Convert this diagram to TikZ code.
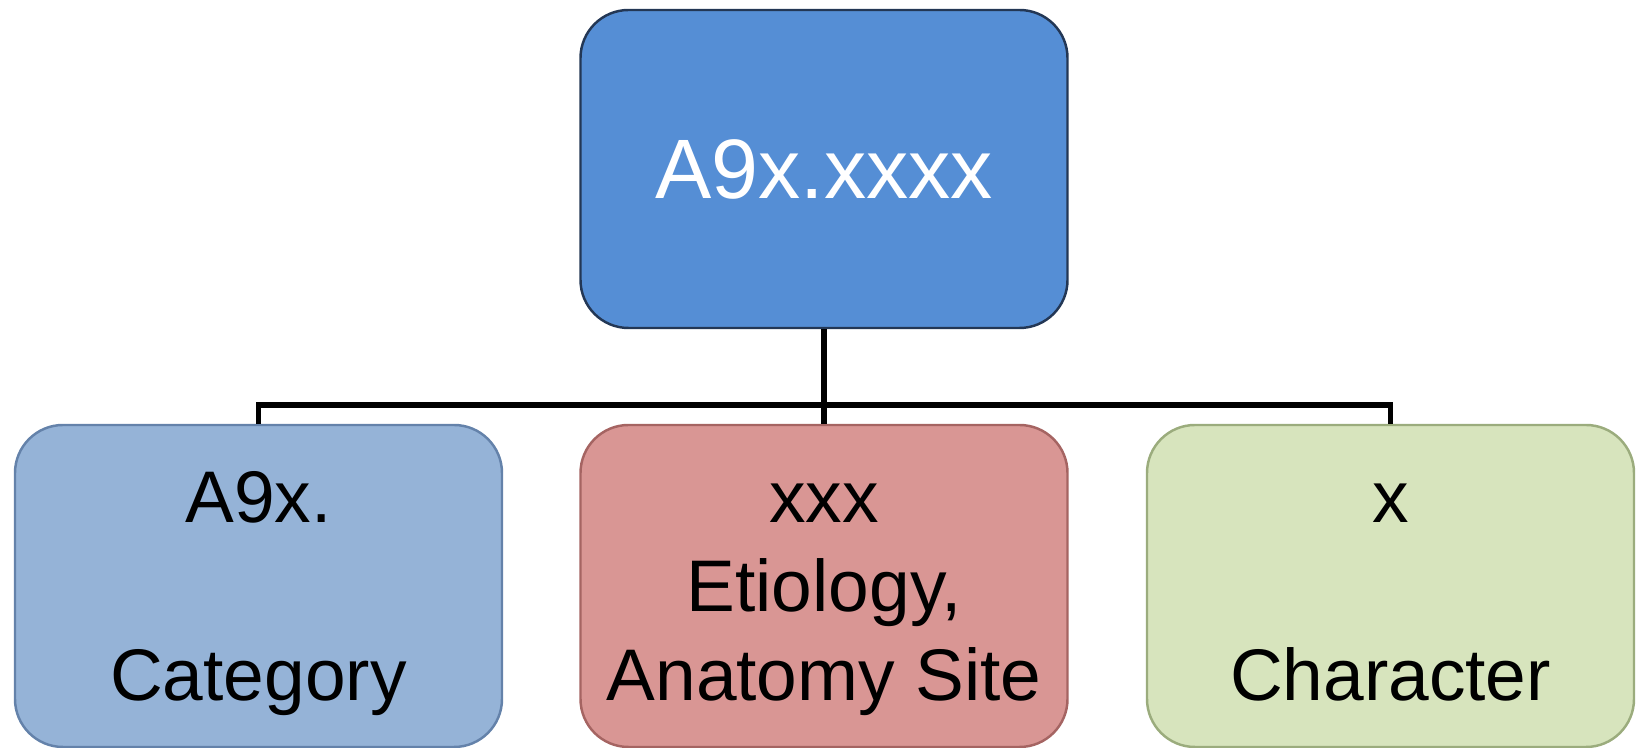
\documentclass[tikz,border=0pt]{standalone}
\usepackage{fontspec}
\setmainfont{Liberation Sans}
\usepackage{tikz}
\usetikzlibrary{positioning, calc}
\definecolor{rootblue}{RGB}{85, 142, 213}
\definecolor{rootline}{RGB}{35, 55, 85}
\definecolor{catblue}{RGB}{149, 179, 215}
\definecolor{catline}{RGB}{100, 130, 170}
\definecolor{sitered}{RGB}{217, 150, 148}
\definecolor{siteline}{RGB}{165, 100, 98}
\definecolor{chargreen}{RGB}{215, 228, 189}
\definecolor{charline}{RGB}{155, 172, 125}
\newcommand{\hitop}{\rule{0pt}{18.8pt}}
\newcommand{\lowbot}{\rule[-4.4pt]{0pt}{4.4pt}}

\begin{document}
\begin{tikzpicture}[
    box/.style={draw, rounded corners=0.48cm, minimum width=4.87cm, minimum height=3.22cm,
      align=center, line width=0.7pt, inner sep=2pt, font=\fontsize{20.8}{25.3}\selectfont},
    link/.style={line width=1.5pt}]
  \useasboundingbox (0,0) rectangle (16.36,7.48);
  \node[box, fill=rootblue, draw=rootline, minimum height=3.18cm, text=white,
    font=\fontsize{24}{29}\selectfont] (code) at (8.24, 5.79) {A9x.xxxx};
  \node[box, fill=catblue, draw=catline]    (cat)  at (2.585, 1.62) {\hitop A9x.\\[25.3pt]Category\lowbot};
  \node[box, fill=sitered, draw=siteline]   (site) at (8.24, 1.62)  {\hitop xxx\\Etiology,\\Anatomy Site\lowbot};
  \node[box, fill=chargreen, draw=charline] (char) at (13.905, 1.62) {\hitop x\\[25.3pt]Character\lowbot};
  \coordinate (bar) at (8.24, 3.43);
  \draw[link] (code.south) -- (bar);
  \draw[link] (bar) -| (cat.north);
  \draw[link] (bar) -| (char.north);
  \draw[link] (bar) -- (site.north);
\end{tikzpicture}
\end{document}
